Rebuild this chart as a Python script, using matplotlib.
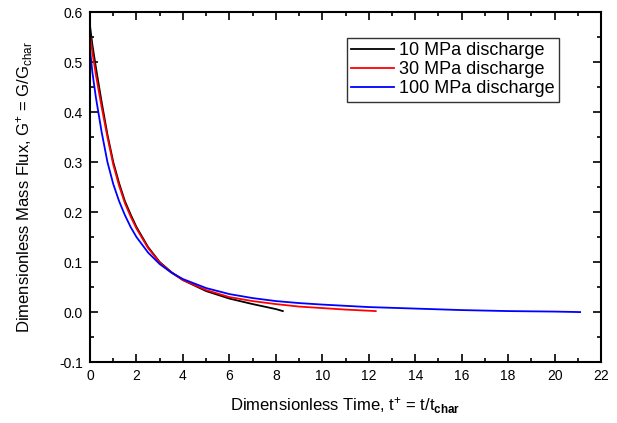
import matplotlib
matplotlib.use("Agg")
import matplotlib.pyplot as plt
from matplotlib.ticker import MultipleLocator

plt.rcParams['font.family'] = ['Liberation Sans', 'DejaVu Sans']
plt.rcParams['mathtext.fontset'] = 'custom'
plt.rcParams['mathtext.rm'] = 'Liberation Sans'
plt.rcParams['mathtext.it'] = 'Liberation Sans'
plt.rcParams['mathtext.bf'] = 'Liberation Sans:bold'
plt.rcParams['axes.unicode_minus'] = False

# Data
t_10 = [0, 0.1, 0.25, 0.5, 0.75, 1.0, 1.25, 1.5, 1.75, 2.0, 2.5, 3.0, 3.5, 4.0, 5.0, 6.0, 7.0, 8.0, 8.3]
g_10 = [0.572, 0.535, 0.49, 0.42, 0.355, 0.300, 0.258, 0.222, 0.195, 0.170, 0.130, 0.100, 0.080,
        0.064, 0.042, 0.027, 0.016, 0.006, 0.002]

t_30 = [0, 0.1, 0.25, 0.5, 0.75, 1.0, 1.25, 1.5, 1.75, 2.0, 2.5, 3.0, 3.5, 4.0, 5.0, 6.0, 7.0,
        8.0, 9.0, 10.0, 11.0, 12.3]
g_30 = [0.555, 0.52, 0.475, 0.41, 0.35, 0.295, 0.253, 0.218, 0.191, 0.167, 0.128, 0.099, 0.079,
        0.064, 0.044, 0.030, 0.022, 0.016, 0.011, 0.008, 0.005, 0.002]

t_100 = [0, 0.1, 0.25, 0.5, 0.75, 1.0, 1.25, 1.5, 1.75, 2.0, 2.5, 3.0, 3.5, 4.0, 5.0, 6.0, 7.0,
         8.0, 9.0, 10, 12, 14, 16, 18, 20, 21.1]
g_100 = [0.525, 0.48, 0.43, 0.36, 0.30, 0.256, 0.222, 0.194, 0.170, 0.150, 0.119, 0.096, 0.079,
         0.066, 0.048, 0.036, 0.028, 0.022, 0.018, 0.015, 0.010, 0.007, 0.004, 0.002, 0.001, 0.000]

labels = ["10 MPa discharge", "30 MPa discharge", "100 MPa discharge"]
colors = ["#000000", "#ff0000", "#0000ff"]

fig = plt.figure(figsize=(6.17, 4.23), dpi=100)
ax = fig.add_axes([0.1459, 0.144, 0.8282, 0.8276])

for t, g, lab, c in zip([t_10, t_30, t_100], [g_10, g_30, g_100], labels, colors):
    ax.plot(t, g, color=c, lw=1.3, label=lab)

ax.set_xlim(0, 22)
ax.set_ylim(-0.1, 0.6)
ax.xaxis.set_major_locator(MultipleLocator(2))
ax.xaxis.set_minor_locator(MultipleLocator(1))
ax.yaxis.set_major_locator(MultipleLocator(0.1))
ax.yaxis.set_minor_locator(MultipleLocator(0.05))
ax.yaxis.set_major_formatter(plt.FormatStrFormatter('%.1f'))
ax.tick_params(which='both', direction='in', top=True, right=True, labelsize=10, width=1.2)
ax.tick_params(which='major', length=6, pad=5)
ax.tick_params(which='minor', length=3)
for s in ax.spines.values():
    s.set_linewidth(1.5)

ax.set_xlabel(r"Dimensionless Time, t$^{+}$ = t/t$_{\mathbf{char}}$", fontsize=12, labelpad=9)
ax.set_ylabel(r"Dimensionless Mass Flux, G$^{+}$ = G/G$_{char}$", fontsize=12)
ax.yaxis.set_label_coords(-0.108, 0.5)

leg = ax.legend(loc='upper right', bbox_to_anchor=(0.918, 0.926), fontsize=13, frameon=True,
                fancybox=False, edgecolor='black', handlelength=2.35, borderaxespad=0,
                labelspacing=0.1, borderpad=0.25, handletextpad=0.3)
leg.get_frame().set_linewidth(1.0)

fig.savefig("out.png", dpi=100)
